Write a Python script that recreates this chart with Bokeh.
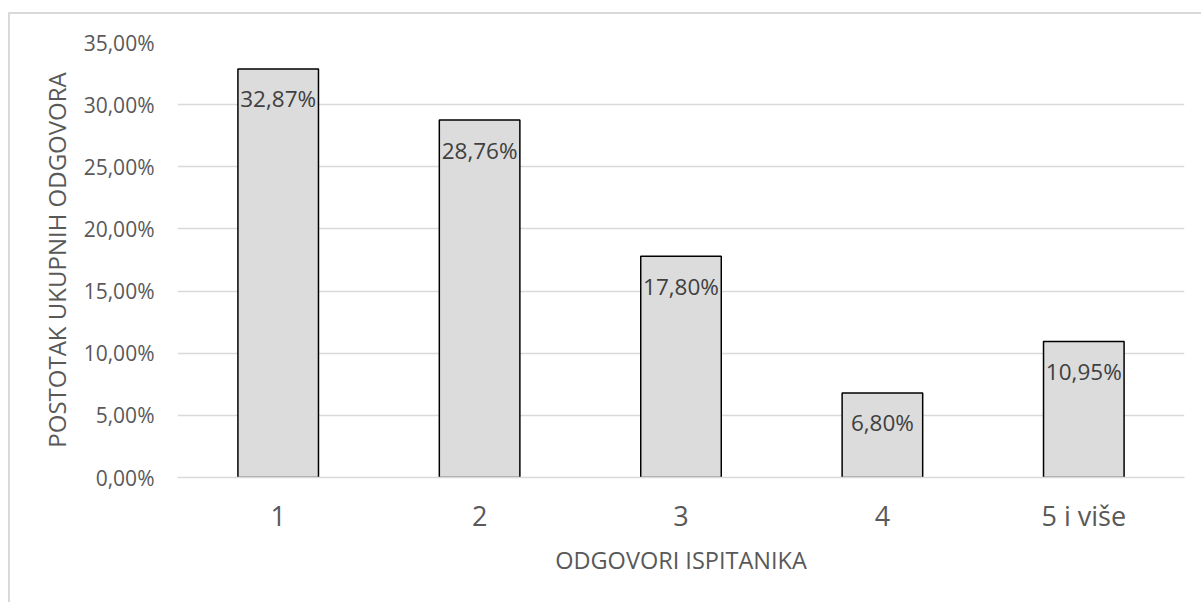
from bokeh.plotting import figure
from bokeh.models import ColumnDataSource, Range1d, FixedTicker
from bokeh.layouts import column
from bokeh.core.properties import value
from bokeh.embed import file_html
from bokeh.resources import INLINE

categories = ["1", "2", "3", "4", "5 i više"]
values = [0.3287, 0.2876, 0.1780, 0.0680, 0.1095]
value_labels = ["32,87%", "28,76%", "17,80%", "6,80%", "10,95%"]
y_ticks = [0.0, 0.05, 0.10, 0.15, 0.20, 0.25, 0.30, 0.35]
y_tick_labels = ["0,00%", "5,00%", "10,00%", "15,00%", "20,00%", "25,00%", "30,00%", "35,00%"]

FONT = "Open Sans"
GRID = "#d9d9d9"

src = ColumnDataSource(dict(cat=categories, val=values, lab=value_labels))

p = figure(x_range=categories, y_range=Range1d(0, 0.35),
           frame_width=1007, frame_height=435,
           min_border_left=167, min_border_top=28, min_border_right=17, min_border_bottom=125,
           output_backend="svg", toolbar_location=None)

p.vbar(x="cat", top="val", width=0.4, source=src,
       fill_color="#dcdcdc", line_color="#000000", line_width=1.5)

p.text(x="cat", y="val", text="lab", source=src,
       text_font=value(FONT), text_font_size="22.5px", text_color="#404040",
       text_align="center", text_baseline="middle", y_offset=30)

p.outline_line_color = None
p.background_fill_color = "white"
p.border_fill_color = "white"

p.xgrid.grid_line_color = None
p.ygrid.grid_line_color = GRID
p.ygrid.grid_line_width = 1.5

p.yaxis.ticker = FixedTicker(ticks=y_ticks)
p.yaxis.major_label_overrides = {t: l for t, l in zip(y_ticks, y_tick_labels)}
p.yaxis.axis_line_color = None
p.yaxis.major_tick_line_color = None
p.yaxis.minor_tick_line_color = None
p.yaxis.major_tick_out = 0
p.yaxis.major_tick_in = 0
p.yaxis.minor_tick_out = 0
p.yaxis.minor_tick_in = 0
p.yaxis.major_label_text_font = FONT
p.yaxis.major_label_text_font_size = "21px"
p.yaxis.major_label_text_color = "#595959"
p.yaxis.major_label_standoff = 23
p.yaxis.axis_label = "POSTOTAK UKUPNIH ODGOVORA"
p.yaxis.axis_label_text_font = FONT
p.yaxis.axis_label_text_font_size = "24px"
p.yaxis.axis_label_text_font_style = "normal"
p.yaxis.axis_label_text_color = "#595959"
p.yaxis.axis_label_standoff = 8

p.xaxis.axis_line_color = GRID
p.xaxis.axis_line_width = 1.5
p.xaxis.major_tick_line_color = None
p.xaxis.minor_tick_line_color = None
p.xaxis.major_tick_out = 0
p.xaxis.major_tick_in = 0
p.xaxis.minor_tick_out = 0
p.xaxis.minor_tick_in = 0
p.xaxis.major_label_text_font = FONT
p.xaxis.major_label_text_font_size = "27px"
p.xaxis.major_label_text_color = "#595959"
p.xaxis.major_label_standoff = 19
p.xaxis.axis_label = "ODGOVORI ISPITANIKA"
p.xaxis.axis_label_text_font = FONT
p.xaxis.axis_label_text_font_size = "23.5px"
p.xaxis.axis_label_text_font_style = "normal"
p.xaxis.axis_label_text_color = "#595959"
p.xaxis.axis_label_standoff = 7

layout = column(p, styles={"border-left": "2px solid #d9d9d9",
                           "border-top": "2px solid #d9d9d9",
                           "margin-top": "12px",
                           "margin-left": "8px"})

open("out.html", "w").write(file_html(layout, INLINE))
